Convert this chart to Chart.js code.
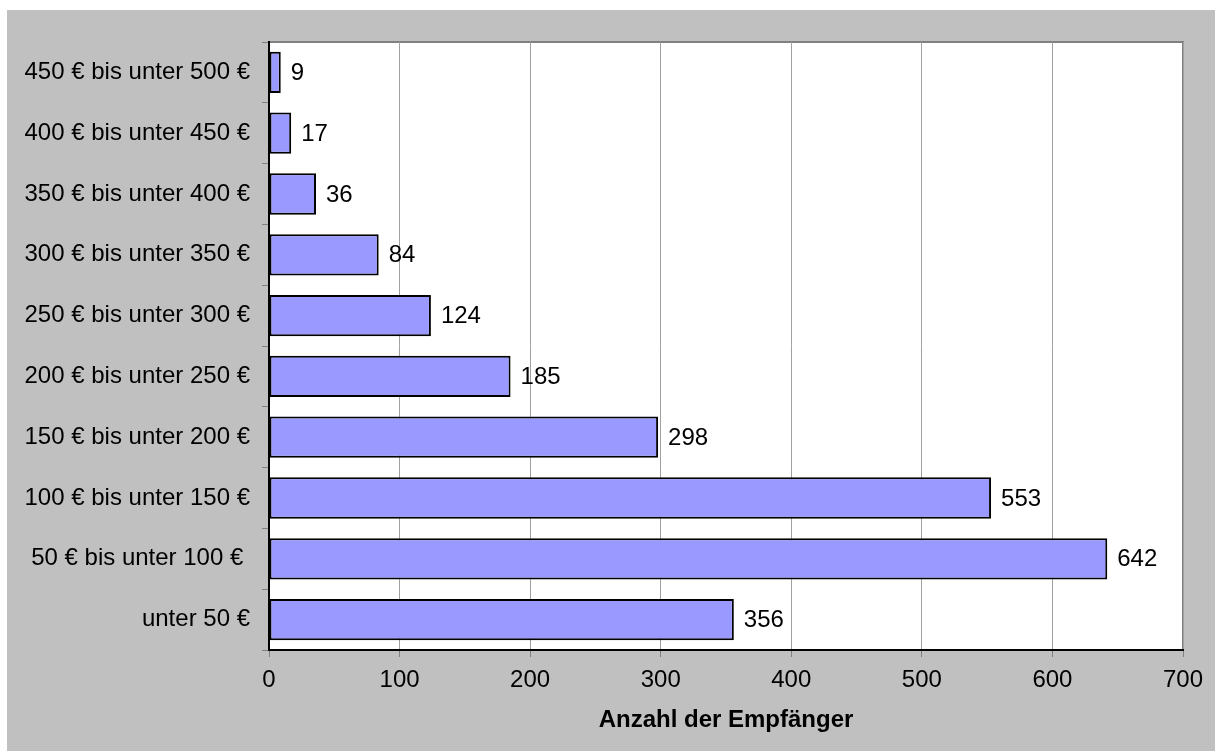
<!DOCTYPE html>
<html>
<head>
<meta charset="utf-8">
<script src="https://cdn.jsdelivr.net/npm/chart.js@4.4.1/dist/chart.umd.min.js"></script>
<style>
  html, body { margin: 0; padding: 0; background: #ffffff; }
  #wrap { position: absolute; left: 7px; top: 10px; width: 1208px; height: 741px; background: #c0c0c0; }
  canvas { display: block; }
</style>
</head>
<body>
<div id="wrap"><canvas id="c" width="1208" height="741"></canvas></div>
<script>
const categories = [
  "450 € bis unter 500 €",
  "400 € bis unter 450 €",
  "350 € bis unter 400 €",
  "300 € bis unter 350 €",
  "250 € bis unter 300 €",
  "200 € bis unter 250 €",
  "150 € bis unter 200 €",
  "100 € bis unter 150 €",
  "50 € bis unter 100 € ",
  "unter 50 €"
];
const empfaenger = [9, 17, 36, 84, 124, 185, 298, 553, 642, 356];
const xTicks = [0, 100, 200, 300, 400, 500, 600, 700];
const xTitle = "Anzahl der Empfänger";

const FONT = "'Liberation Sans', Arial, sans-serif";

const plotFrame = {
  id: 'plotFrame',
  beforeDraw(chart) {
    const a = chart.chartArea, ctx = chart.ctx;
    ctx.save();
    ctx.fillStyle = '#ffffff';
    ctx.fillRect(a.left, a.top, a.right - a.left, a.bottom - a.top);
    ctx.strokeStyle = '#808080';
    ctx.lineWidth = 2;
    ctx.beginPath();
    ctx.moveTo(a.left, a.top);
    ctx.lineTo(a.right, a.top);
    ctx.lineTo(a.right, a.bottom);
    ctx.stroke();
    ctx.restore();
  }
};

const valueLabels = {
  id: 'valueLabels',
  afterDatasetsDraw(chart) {
    const ctx = chart.ctx;
    const meta = chart.getDatasetMeta(0);
    ctx.save();
    ctx.font = "24px " + FONT;
    ctx.fillStyle = '#000000';
    ctx.textAlign = 'left';
    ctx.textBaseline = 'middle';
    meta.data.forEach((bar, i) => {
      ctx.fillText(String(empfaenger[i]), bar.x + 10, bar.y + 1);
    });
    ctx.restore();
  }
};

new Chart(document.getElementById('c'), {
  type: 'bar',
  data: {
    labels: categories,
    datasets: [{
      data: empfaenger,
      backgroundColor: '#9999ff',
      borderColor: '#000000',
      borderWidth: 2,
      borderSkipped: false,
      barPercentage: 0.68,
      categoryPercentage: 1.0
    }]
  },
  options: {
    indexAxis: 'y',
    responsive: false,
    animation: false,
    layout: { padding: { top: 32, right: 32, left: 0, bottom: 0 } },
    plugins: {
      legend: { display: false },
      tooltip: { enabled: false },
      title: { display: false }
    },
    scales: {
      x: {
        type: 'linear',
        min: 0,
        max: 700,
        afterBuildTicks(scale) { scale.ticks = xTicks.map(v => ({ value: v })); },
        afterFit(scale) { scale.height = 101; },
        ticks: {
          color: '#000000',
          font: { family: FONT, size: 24 },
          padding: 9,
          maxRotation: 0
        },
        grid: {
          color: '#a0a0a0',
          lineWidth: 1,
          tickLength: 7,
          tickColor: '#808080'
        },
        border: { color: '#000000', width: 2 },
        title: {
          display: true,
          text: xTitle,
          color: '#000000',
          font: { family: FONT, size: 24, weight: 'bold' },
          padding: { top: 0, bottom: 16 }
        }
      },
      y: {
        afterFit(scale) { scale.width = 262; },
        ticks: {
          color: '#000000',
          font: { family: FONT, size: 24 },
          padding: 12,
          autoSkip: false
        },
        grid: {
          drawOnChartArea: false,
          offset: true,
          tickLength: 7,
          color: '#808080',
          lineWidth: 1
        },
        border: { color: '#000000', width: 2 }
      }
    }
  },
  plugins: [plotFrame, valueLabels]
});
</script>
</body>
</html>
